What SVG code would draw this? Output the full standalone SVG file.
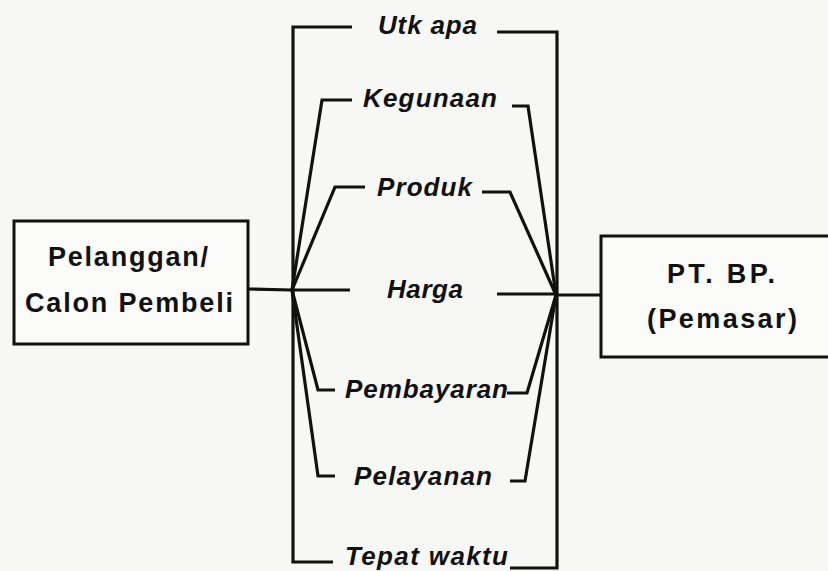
<svg xmlns="http://www.w3.org/2000/svg" width="828" height="571" viewBox="0 0 828 571">
<style>
.box{fill:#fbfbfa;stroke:#111;stroke-width:3}
.ln{fill:none;stroke:#111;stroke-width:3.2;stroke-linejoin:miter;stroke-linecap:butt}
.nt{font-family:"Liberation Sans",Arial,sans-serif;font-weight:bold;font-size:27px;fill:#111}
.lb{font-family:"Liberation Sans",Arial,sans-serif;font-weight:bold;font-style:italic;font-size:26px;fill:#111}
</style>
<rect width="828" height="571" fill="#f7f7f5"/>
<g id="connectors">
<path class="ln" d="M248,289 L292,290"/>
<path class="ln" d="M556,295 L601,295"/>
<path class="ln" d="M352,27 H293 V562 H333"/>
<path class="ln" d="M497,32 H557 V568 H510"/>
<path class="ln" d="M352,100 H322 L292,290"/>
<path class="ln" d="M512,106 H528 L556,295"/>
<path class="ln" d="M365,187 H335 L292,290"/>
<path class="ln" d="M482,192 H510 L556,295"/>
<path class="ln" d="M292,290 H350"/>
<path class="ln" d="M497,294 H556"/>
<path class="ln" d="M292,290 L318,390 H335"/>
<path class="ln" d="M507,393 H527 L556,295"/>
<path class="ln" d="M292,290 L318,476 H335"/>
<path class="ln" d="M510,481 H525 L556,295"/>
</g>
<g id="pelanggan">
<rect class="box" x="14" y="221" width="234" height="123"/>
<text class="nt" x="48" y="266" textLength="160" lengthAdjust="spacing">Pelanggan/</text>
<text class="nt" x="25" y="312" textLength="208" lengthAdjust="spacing">Calon Pembeli</text>
</g>
<g id="pemasar">
<rect class="box" x="601" y="236" width="250" height="121"/>
<text class="nt" x="667" y="283" textLength="108" lengthAdjust="spacing">PT. BP.</text>
<text class="nt" x="647" y="328" textLength="150" lengthAdjust="spacing">(Pemasar)</text>
</g>
<g id="utk-apa"><text class="lb" x="378" y="34" textLength="99" lengthAdjust="spacing">Utk apa</text></g>
<g id="kegunaan"><text class="lb" x="363" y="107" textLength="134" lengthAdjust="spacing">Kegunaan</text></g>
<g id="produk"><text class="lb" x="377" y="196" textLength="95" lengthAdjust="spacing">Produk</text></g>
<g id="harga"><text class="lb" x="387" y="298" textLength="76" lengthAdjust="spacing">Harga</text></g>
<g id="pembayaran"><text class="lb" x="345" y="398" textLength="163" lengthAdjust="spacing">Pembayaran</text></g>
<g id="pelayanan"><text class="lb" x="354" y="485" textLength="138" lengthAdjust="spacing">Pelayanan</text></g>
<g id="tepat-waktu"><text class="lb" x="345" y="565" textLength="163" lengthAdjust="spacing">Tepat waktu</text></g>
</svg>
